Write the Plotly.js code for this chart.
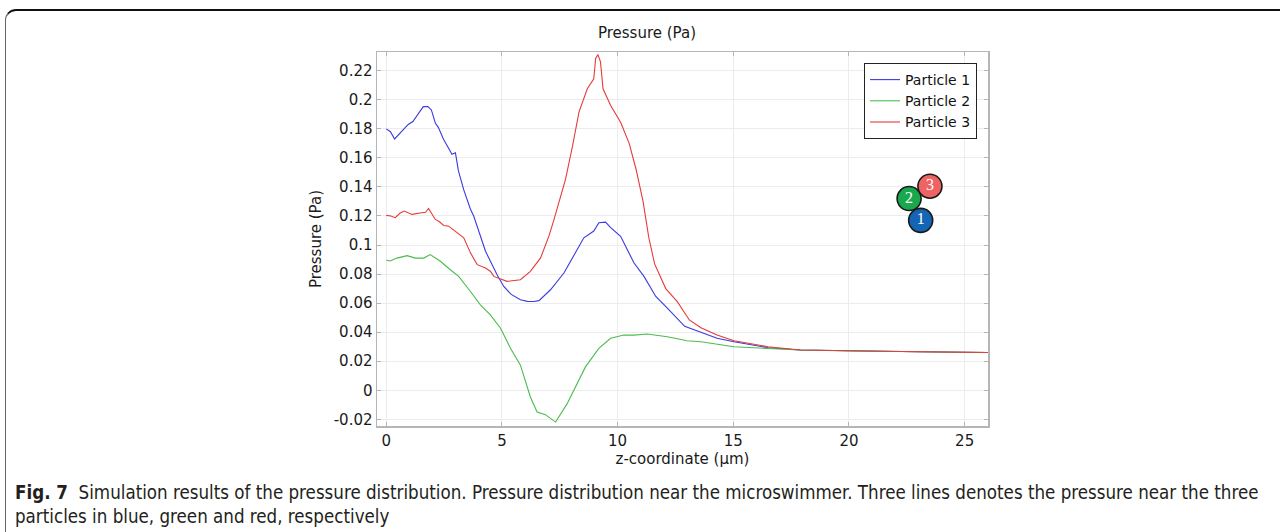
<!DOCTYPE html>
<html>
<head>
<meta charset="utf-8">
<script src="https://cdn.plot.ly/plotly-3.0.1.min.js"></script>
<style>
  html, body { margin: 0; padding: 0; background: #fff; overflow: hidden; }
  #wrap { position: relative; width: 1280px; height: 532px; }
  #frame { position: absolute; left: 5px; top: 9px; width: 1320px; height: 530px;
           border-top: 2px solid #111; border-left: 1.5px solid #666; border-bottom: 1.5px solid #666;
           border-top-left-radius: 11px; border-bottom-left-radius: 11px; pointer-events: none; z-index: 5; }
  #chart { position: absolute; left: 0; top: 0; width: 1280px; height: 532px; }
</style>
</head>
<body>
<div id="wrap">
  <div id="chart"></div>
  <div id="frame"></div>
</div>
<script>
// ---- data ----
const seriesNames = ["Particle 1", "Particle 2", "Particle 3"];

const xBlue = [0, 0.18, 0.36, 0.6, 0.95, 1.15, 1.4, 1.6, 1.8, 1.95, 2.12, 2.25, 2.47, 2.7, 2.84, 2.99, 3.12, 3.35, 3.64, 3.78, 3.93, 4.29, 4.79, 5.08, 5.4, 5.8, 6.1, 6.38, 6.6, 7.1, 7.68, 8.1, 8.54, 8.97, 9.19, 9.48, 9.7, 10.13, 10.4, 10.71, 11.14, 11.65, 12.15, 12.9, 13.6, 14.3, 15.03, 16.5, 17.9, 20.1, 23.0, 26.0];
const yBlue = [0.180, 0.178, 0.173, 0.177, 0.183, 0.185, 0.191, 0.1953, 0.1953, 0.193, 0.184, 0.181, 0.173, 0.166, 0.1625, 0.1635, 0.151, 0.138, 0.1246, 0.120, 0.113, 0.0957, 0.0796, 0.0715, 0.066, 0.0623, 0.0612, 0.0611, 0.0617, 0.0692, 0.0807, 0.093, 0.105, 0.1096, 0.1153, 0.1158, 0.112, 0.106, 0.097, 0.0876, 0.0784, 0.0646, 0.0565, 0.0440, 0.0400, 0.0358, 0.0334, 0.0293, 0.0277, 0.0270, 0.0265, 0.0260];

const xGreen = [0, 0.17, 0.46, 0.9, 1.26, 1.62, 1.9, 2.34, 2.77, 3.13, 3.64, 4.07, 4.5, 4.94, 5.37, 5.8, 6.23, 6.52, 6.88, 7.32, 7.82, 8.61, 9.19, 9.7, 10.27, 10.71, 11.28, 11.7, 12.15, 13.0, 13.6, 15.03, 16.5, 17.9, 20.1, 23.0, 26.0];
const yGreen = [0.0895, 0.089, 0.091, 0.0927, 0.091, 0.091, 0.0934, 0.0888, 0.083, 0.0784, 0.068, 0.0588, 0.0519, 0.0427, 0.0289, 0.0173, -0.0046, -0.015, -0.0168, -0.0219, -0.0092, 0.0161, 0.0288, 0.0358, 0.038, 0.038, 0.0387, 0.038, 0.0369, 0.0341, 0.0334, 0.0300, 0.0286, 0.0277, 0.0270, 0.0265, 0.0260];

const xRed = [0, 0.2, 0.39, 0.6, 0.78, 1.11, 1.54, 1.7, 1.83, 2.0, 2.12, 2.3, 2.48, 2.7, 2.99, 3.35, 3.64, 3.93, 4.29, 4.5, 4.65, 5.22, 5.8, 6.23, 6.67, 7.03, 7.24, 7.5, 7.75, 8.05, 8.33, 8.69, 8.97, 9.05, 9.15, 9.26, 9.37, 9.7, 10.13, 10.5, 10.8, 11.1, 11.35, 11.6, 12.08, 12.58, 13.1, 13.6, 14.3, 15.03, 16.5, 17.9, 20.1, 23.0, 26.0];
const yRed = [0.1204, 0.1200, 0.1188, 0.122, 0.1234, 0.1211, 0.1222, 0.1225, 0.1252, 0.121, 0.1176, 0.116, 0.1135, 0.113, 0.1096, 0.105, 0.0946, 0.0865, 0.0842, 0.082, 0.0784, 0.075, 0.0761, 0.0819, 0.0911, 0.1061, 0.117, 0.131, 0.1453, 0.168, 0.1915, 0.2076, 0.2145, 0.2284, 0.2311, 0.2261, 0.2076, 0.196, 0.1845, 0.170, 0.152, 0.130, 0.105, 0.087, 0.070, 0.061, 0.0484, 0.043, 0.038, 0.0341, 0.0300, 0.0277, 0.0270, 0.0265, 0.0260];

// particle sketch (inset icon) positions in data units
const iconX = [23.1, 22.6, 23.5];
const iconY = [0.117, 0.132, 0.1405];
const iconLabels = ["1", "2", "3"];

const xTickVals = [0, 5, 10, 15, 20, 25];
const xTickText = ["0", "5", "10", "15", "20", "25"];
const yTickVals = [-0.02, 0, 0.02, 0.04, 0.06, 0.08, 0.1, 0.12, 0.14, 0.16, 0.18, 0.2, 0.22];
const yTickText = ["-0.02", "0", "0.02", "0.04", "0.06", "0.08", "0.1", "0.12", "0.14", "0.16", "0.18", "0.2", "0.22"];

const captionLine1Bold = "Fig. 7";
const captionLine1 = "Simulation results of the pressure distribution. Pressure distribution near the microswimmer. Three lines denotes the pressure near the three";
const captionLine2 = "particles in blue, green and red, respectively";

// ---- drawing ----
const W = 1280, H = 532;
const M = {l: 377, r: 292, t: 52, b: 106};
const pw = W - M.l - M.r, ph = H - M.t - M.b;
const px2paperX = px => (px - M.l) / pw;
const py2paperY = py => 1 - (py - M.t) / ph;

const lineFont = "DejaVu Sans, Liberation Sans, sans-serif";
const capFont = "DejaVu Sans Condensed, Liberation Sans Narrow, Arial Narrow, sans-serif";

const traces = [
  {x: xBlue, y: yBlue, name: seriesNames[0], type: "scatter", mode: "lines",
   line: {color: "#3a3ae0", width: 1.1}},
  {x: xGreen, y: yGreen, name: seriesNames[1], type: "scatter", mode: "lines",
   line: {color: "#4cbb4c", width: 1.1}},
  {x: xRed, y: yRed, name: seriesNames[2], type: "scatter", mode: "lines",
   line: {color: "#e63a3a", width: 1.1}},
  {x: iconX, y: iconY, type: "scatter", mode: "markers+text", showlegend: false, hoverinfo: "skip",
   text: iconLabels, textposition: "middle center",
   textfont: {family: "Liberation Serif, DejaVu Serif, serif", size: 16, color: "#ffffff"},
   marker: {size: 24, color: ["#1565b5", "#1aa84e", "#f06363"], line: {color: "#1a1a1a", width: 1.6}, opacity: 1}}
];

const axisCommon = {
  showline: true, linecolor: "#b5b5b5", linewidth: 1.5, mirror: "ticks",
  ticks: "inside", ticklen: 4, tickcolor: "#b5b5b5", tickwidth: 1,
  showgrid: true, gridcolor: "#ececec", gridwidth: 1, zeroline: false,
  tickfont: {family: lineFont, size: 15, color: "#1a1a1a"}
};

const layout = {
  width: W, height: H,
  margin: M,
  paper_bgcolor: "#ffffff", plot_bgcolor: "#ffffff",
  showlegend: true,
  title: {text: "Pressure (Pa)", font: {family: lineFont, size: 15, color: "#1a1a1a"},
          xref: "container", yref: "container", x: 647 / W, y: 1 - 33 / H, xanchor: "center", yanchor: "middle"},
  xaxis: Object.assign({}, axisCommon, {
    range: [-0.40, 26.01], tickmode: "array", tickvals: xTickVals, ticktext: xTickText,
    title: {text: "z-coordinate (µm)", font: {family: lineFont, size: 15, color: "#1a1a1a"}, standoff: 4}
  }),
  yaxis: Object.assign({}, axisCommon, {
    range: [-0.0246, 0.2329], tickmode: "array", tickvals: yTickVals, ticktext: yTickText,
    title: {text: "Pressure (Pa)", font: {family: lineFont, size: 15, color: "#1a1a1a"}, standoff: 8}
  }),
  legend: {
    x: px2paperX(977), y: py2paperY(63), xanchor: "right", yanchor: "top",
    bgcolor: "#ffffff", bordercolor: "#222222", borderwidth: 1,
    font: {family: lineFont, size: 14, color: "#111"},
    tracegroupgap: 0, itemwidth: 30
  },
  annotations: [
    {xref: "paper", yref: "paper", x: px2paperX(13), y: py2paperY(492), xanchor: "left", yanchor: "middle",
     showarrow: false, align: "left",
     text: "<b>" + captionLine1Bold + "</b>  " + captionLine1,
     font: {family: capFont, size: 18.6, color: "#231f20"}},
    {xref: "paper", yref: "paper", x: px2paperX(13), y: py2paperY(516), xanchor: "left", yanchor: "middle",
     showarrow: false, align: "left",
     text: captionLine2,
     font: {family: capFont, size: 18.6, color: "#231f20"}}
  ]
};

Plotly.newPlot("chart", traces, layout, {staticPlot: true, displayModeBar: false});
</script>
</body>
</html>
